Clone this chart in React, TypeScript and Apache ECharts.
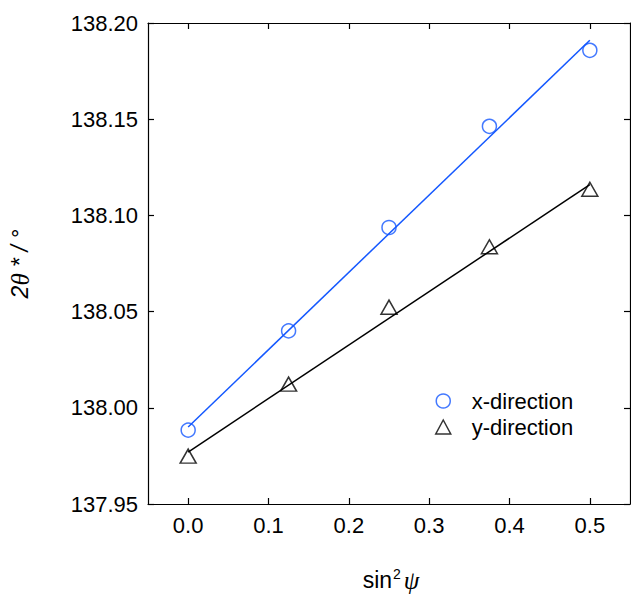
import React, { useEffect, useRef } from 'react';
import * as echarts from 'echarts';

// sin^2(psi) positions of the measurements
const sinPsi = [0, 0.125, 0.25, 0.375, 0.5];
// measured 2theta* (degrees)
const xDirection = [137.9884, 138.04, 138.0937, 138.1463, 138.1858];
const yDirection = [137.9749, 138.0123, 138.0523, 138.0837, 138.1136];
// fitted straight lines (end points)
const fitRange = [0, 0.5];
const xFit = [137.99, 138.191];
const yFit = [137.977, 138.116];
// tick values
const xTicks = [0, 0.1, 0.2, 0.3, 0.4, 0.5];
const seriesNames = ['x-direction', 'y-direction'];

const BLUE = '#1458ff';
const SANS = 'Liberation Sans, Arial, sans-serif';
const SERIF = 'Liberation Serif, Times New Roman, serif';

export default function App() {
  const ref = useRef<HTMLDivElement>(null);

  useEffect(() => {
    if (!ref.current) return;
    const chart = echarts.init(ref.current, null, { renderer: 'svg' });
    const axisLineStyle = { color: '#000', width: 1.2 };
    const pair = (xs: number[], ys: number[]) => xs.map((x, i) => [x, ys[i]]);

    chart.setOption({
      animation: false,
      backgroundColor: '#fff',
      grid: { left: 148, top: 23, right: 1, bottom: 90, containLabel: false },
      xAxis: [
        {
          type: 'value',
          min: -0.05,
          max: 0.55,
          position: 'bottom',
          axisLine: { show: true, onZero: false, lineStyle: axisLineStyle },
          axisTick: { show: true, inside: true, length: 6, customValues: xTicks, lineStyle: axisLineStyle },
          axisLabel: {
            customValues: xTicks,
            formatter: (v: number) => v.toFixed(1),
            fontSize: 22,
            fontFamily: SANS,
            color: '#000',
            margin: 10,
          },
          splitLine: { show: false },
        },
        {
          type: 'value',
          min: -0.05,
          max: 0.55,
          position: 'top',
          axisLine: { show: true, onZero: false, lineStyle: axisLineStyle },
          axisTick: { show: true, inside: true, length: 6, customValues: xTicks, lineStyle: axisLineStyle },
          axisLabel: { show: false },
          splitLine: { show: false },
        },
      ],
      yAxis: [
        {
          type: 'value',
          min: 137.95,
          max: 138.2,
          interval: 0.05,
          position: 'left',
          axisLine: { show: true, onZero: false, lineStyle: axisLineStyle },
          axisTick: { show: true, inside: true, length: 6, lineStyle: axisLineStyle },
          axisLabel: {
            formatter: (v: number) => v.toFixed(2),
            fontSize: 22,
            fontFamily: SANS,
            color: '#000',
            margin: 10,
          },
          splitLine: { show: false },
        },
        {
          type: 'value',
          min: 137.95,
          max: 138.2,
          interval: 0.05,
          position: 'right',
          axisLine: { show: true, onZero: false, lineStyle: axisLineStyle },
          axisTick: { show: true, inside: true, length: 6, lineStyle: axisLineStyle },
          axisLabel: { show: false },
          splitLine: { show: false },
        },
      ],
      legend: {
        orient: 'vertical',
        left: 430,
        top: 385,
        itemWidth: 15,
        itemHeight: 14,
        itemGap: 4,
        textStyle: { fontSize: 22, fontFamily: SANS, color: '#000', padding: [0, 0, 0, 16] },
        data: [
          { name: seriesNames[0], icon: 'circle', itemStyle: { color: '#fff', borderColor: BLUE, borderWidth: 1.5 } },
          { name: seriesNames[1], icon: 'triangle', itemStyle: { color: '#fff', borderColor: '#000', borderWidth: 1.5 } },
        ],
      },
      series: [
        {
          type: 'line',
          name: 'x-fit',
          data: pair(fitRange, xFit),
          showSymbol: false,
          symbol: 'none',
          lineStyle: { color: BLUE, width: 1.5 },
          z: 2,
          silent: true,
        },
        {
          type: 'line',
          name: 'y-fit',
          data: pair(fitRange, yFit),
          showSymbol: false,
          symbol: 'none',
          lineStyle: { color: '#000', width: 1.5 },
          z: 2,
          silent: true,
        },
        {
          type: 'scatter',
          name: seriesNames[0],
          data: pair(sinPsi, xDirection),
          symbol: 'circle',
          symbolSize: 14,
          itemStyle: { color: 'rgba(255,255,255,0)', borderColor: BLUE, borderWidth: 1.5 },
          z: 3,
        },
        {
          type: 'scatter',
          name: seriesNames[1],
          data: pair(sinPsi, yDirection),
          symbol: 'triangle',
          symbolSize: [16, 14],
          itemStyle: { color: 'rgba(255,255,255,0)', borderColor: '#000', borderWidth: 1.5 },
          z: 3,
        },
      ],
      graphic: [
        {
          type: 'text',
          x: 20,
          y: 264,
          rotation: Math.PI / 2,
          style: {
            text: '{a|2}{t|θ}{a| * / °}',
            align: 'center',
            verticalAlign: 'middle',
            rich: {
              a: { fontSize: 23, fontFamily: SANS, fontStyle: 'italic', fill: '#000' },
              t: { fontSize: 25, fontFamily: SERIF, fontStyle: 'italic', fill: '#000' },
            },
          },
        },
        {
          type: 'text',
          x: 391,
          y: 580,
          style: {
            text: '{a|sin}{s|2}{p|ψ}',
            align: 'center',
            verticalAlign: 'middle',
            rich: {
              a: { fontSize: 23, fontFamily: SANS, fill: '#000' },
              s: { fontSize: 14, fontFamily: SANS, fill: '#000', padding: [0, 3, 12, 1] },
              p: { fontSize: 25, fontFamily: SERIF, fontStyle: 'italic', fill: '#000' },
            },
          },
        },
      ],
    });
    return () => chart.dispose();
  }, []);

  return (
    <div
      ref={ref}
      style={{ position: 'fixed', left: 0, top: 0, width: 631, height: 594 }}
    />
  );
}
